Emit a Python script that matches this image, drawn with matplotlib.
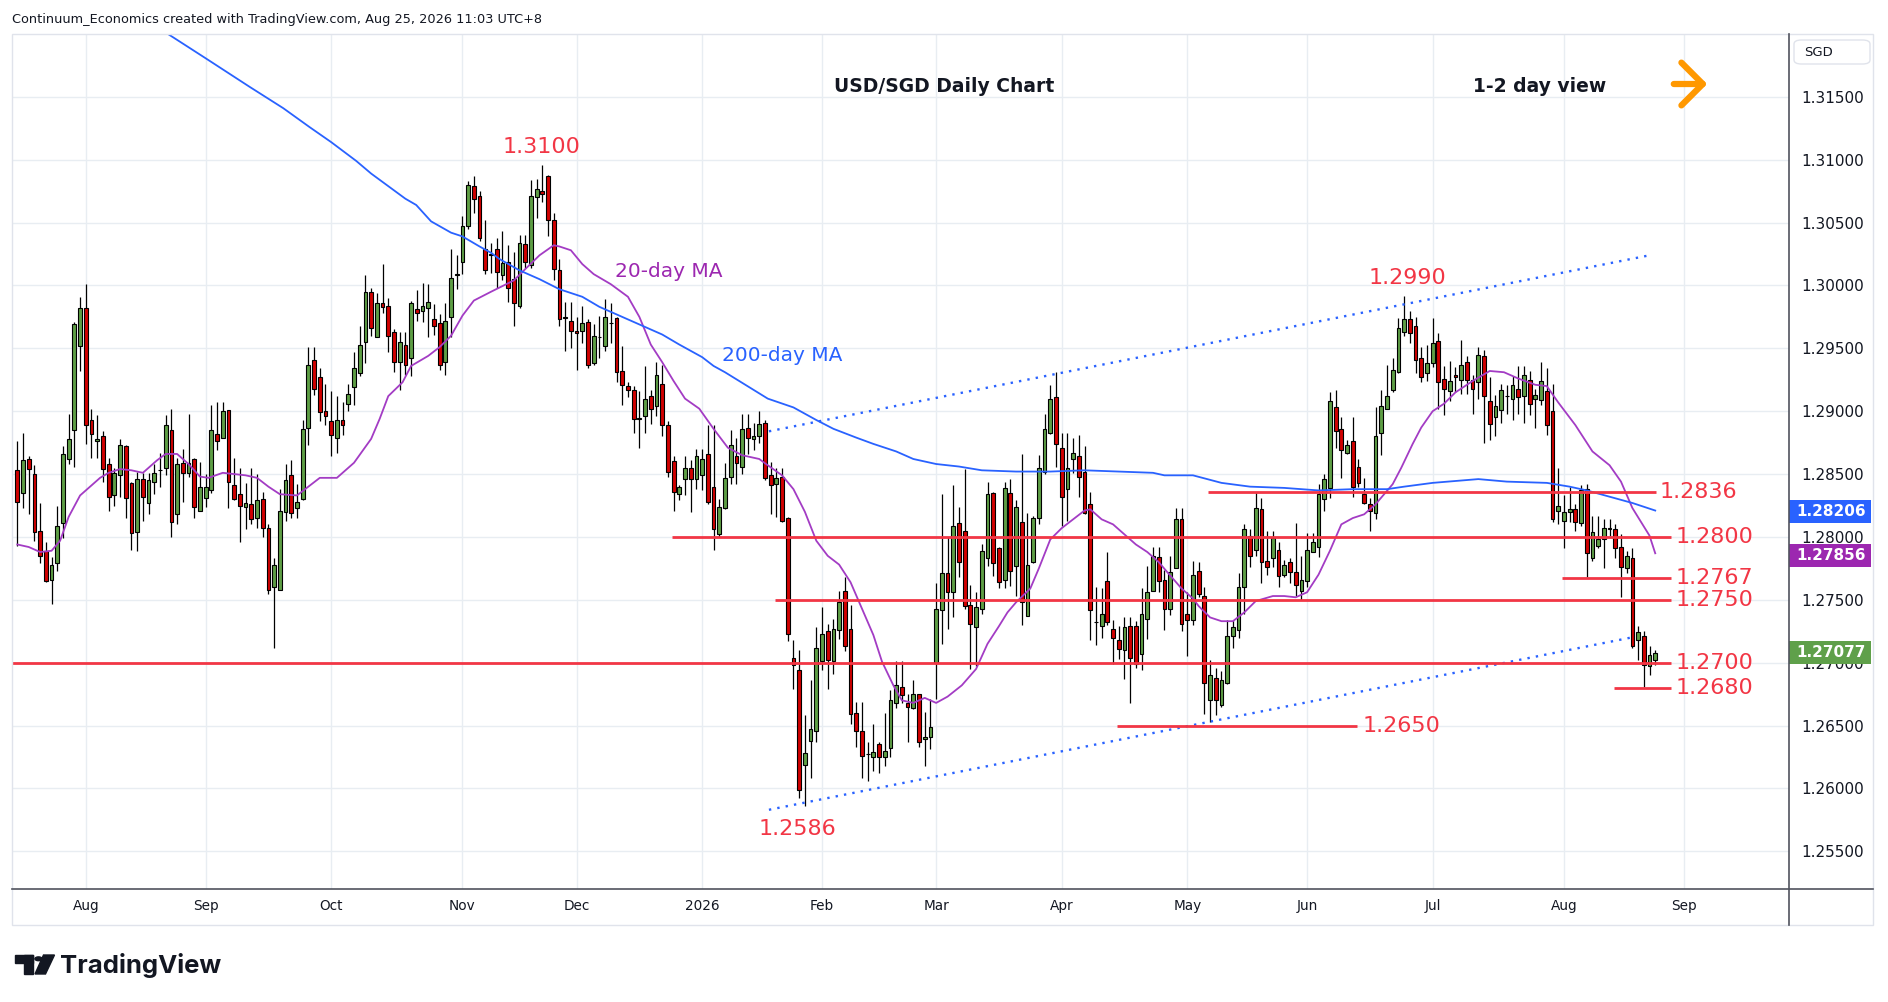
import numpy as np
import pandas as pd
import matplotlib
matplotlib.use("Agg")
import matplotlib.pyplot as plt
from matplotlib import font_manager, transforms
from matplotlib.patches import Rectangle, FancyBboxPatch, Polygon, Circle, FancyArrowPatch
from matplotlib.lines import Line2D

# ---------------- data ----------------
opens = [
1.2853,1.2835,1.2862,1.2850,1.2805,1.2789,1.2766,1.2779,1.2811,1.2862,
1.2885,1.2952,1.2982,1.2893,1.2876,1.2880,1.2858,1.2833,1.2849,1.2872,
1.2843,1.2804,1.2846,1.2827,1.2844,1.2853,1.2855,1.2885,1.2818,1.2859,
1.2851,1.2862,1.2821,1.2831,1.2837,1.2882,1.2879,1.2901,1.2841,1.2834,
1.2824,1.2826,1.2815,1.2830,1.2807,1.2760,1.2758,1.2820,1.2849,1.2823,
1.2830,1.2887,1.2941,1.2927,1.2900,1.2892,1.2879,1.2893,1.2906,1.2919,
1.2930,1.2955,1.2995,1.2959,1.2986,1.2984,1.2963,1.2939,1.2953,1.2942,
1.2981,1.2980,1.2982,1.2973,1.2970,1.2939,1.2975,1.3008,1.3019,1.3047,
1.3079,1.3071,1.3029,1.3025,1.3029,1.3008,1.3019,1.3005,1.2984,1.3033,
1.3016,1.3070,1.3075,1.3087,1.3052,1.3012,1.2975,1.2972,1.2964,1.2964,
1.2971,1.2938,1.2959,1.2952,1.2970,1.2974,1.2932,1.2920,1.2917,1.2894,
1.2896,1.2912,1.2904,1.2922,1.2889,1.2860,1.2834,1.2846,1.2855,1.2846,
1.2849,1.2866,1.2840,1.2802,1.2823,1.2848,1.2864,1.2856,1.2887,1.2878,
1.2880,1.2891,1.2849,1.2842,1.2848,1.2815,1.2704,1.2694,1.2619,1.2638,
1.2646,1.2701,1.2725,1.2701,1.2726,1.2757,1.2727,1.2660,1.2646,1.2627,
1.2625,1.2635,1.2625,1.2632,1.2668,1.2681,1.2668,1.2664,1.2675,1.2639,
1.2641,1.2700,1.2742,1.2771,1.2756,1.2811,1.2805,1.2746,1.2728,1.2743,
1.2783,1.2835,1.2791,1.2766,1.2835,1.2777,1.2812,1.2737,1.2780,1.2815,
1.2852,1.2883,1.2911,1.2871,1.2838,1.2862,1.2864,1.2852,1.2826,1.2732,
1.2729,1.2765,1.2727,1.2718,1.2710,1.2729,1.2729,1.2707,1.2735,1.2757,
1.2784,1.2766,1.2743,1.2775,1.2814,1.2739,1.2734,1.2773,1.2753,1.2670,
1.2688,1.2666,1.2684,1.2721,1.2726,1.2760,1.2801,1.2790,1.2822,1.2781,
1.2783,1.2790,1.2770,1.2780,1.2772,1.2757,1.2765,1.2788,1.2792,1.2830,
1.2839,1.2903,1.2886,1.2867,1.2876,1.2856,1.2834,1.2826,1.2819,1.2883,
1.2902,1.2917,1.2931,1.2963,1.2973,1.2968,1.2942,1.2930,1.2938,1.2956,
1.2926,1.2916,1.2929,1.2925,1.2939,1.2925,1.2923,1.2944,1.2908,1.2895,
1.2901,1.2912,1.2910,1.2918,1.2912,1.2925,1.2910,1.2909,1.2916,1.2900,
1.2821,1.2813,1.2820,1.2822,1.2811,1.2838,1.2783,1.2793,1.2798,1.2806,
1.2806,1.2792,1.2775,1.2783,1.2718,1.2721,1.2697,1.2702]

highs = [
1.2876,1.2883,1.2864,1.2857,1.2827,1.2796,1.2784,1.2825,1.2872,1.2898,
1.2971,1.2991,1.3001,1.2902,1.2897,1.2884,1.2863,1.2855,1.2878,1.2873,
1.2844,1.2852,1.2851,1.2851,1.2858,1.2867,1.2897,1.2902,1.2863,1.2870,
1.2898,1.2863,1.2860,1.2850,1.2905,1.2907,1.2907,1.2901,1.2863,1.2855,
1.2843,1.2855,1.2850,1.2836,1.2810,1.2783,1.2838,1.2858,1.2861,1.2842,
1.2893,1.2951,1.2951,1.2934,1.2922,1.2916,1.2912,1.2907,1.2922,1.2947,
1.2968,1.3008,1.2998,1.2994,1.3017,1.2990,1.2965,1.2963,1.2963,1.2988,
1.2996,1.3002,1.3001,1.2985,1.2977,1.2986,1.3029,1.3024,1.3055,1.3083,
1.3087,1.3075,1.3052,1.3034,1.3038,1.3043,1.3032,1.3027,1.3040,1.3040,
1.3084,1.3085,1.3096,1.3088,1.3058,1.3021,1.2987,1.2987,1.2975,1.2984,
1.2973,1.2969,1.2976,1.2989,1.2986,1.2975,1.2952,1.2923,1.2920,1.2916,
1.2936,1.2917,1.2939,1.2937,1.2892,1.2864,1.2841,1.2864,1.2861,1.2870,
1.2870,1.2889,1.2889,1.2830,1.2859,1.2885,1.2879,1.2898,1.2898,1.2891,
1.2900,1.2893,1.2860,1.2855,1.2855,1.2816,1.2718,1.2710,1.2658,1.2686,
1.2728,1.2744,1.2731,1.2735,1.2757,1.2768,1.2746,1.2669,1.2669,1.2637,
1.2651,1.2637,1.2660,1.2678,1.2701,1.2701,1.2675,1.2686,1.2675,1.2661,
1.2671,1.2763,1.2834,1.2800,1.2841,1.2824,1.2854,1.2762,1.2756,1.2794,
1.2844,1.2836,1.2792,1.2844,1.2846,1.2829,1.2866,1.2819,1.2817,1.2865,
1.2898,1.2921,1.2931,1.2883,1.2883,1.2879,1.2881,1.2872,1.2836,1.2760,
1.2759,1.2788,1.2734,1.2729,1.2736,1.2736,1.2733,1.2759,1.2777,1.2792,
1.2792,1.2774,1.2785,1.2823,1.2823,1.2756,1.2781,1.2780,1.2760,1.2702,
1.2696,1.2693,1.2734,1.2734,1.2771,1.2810,1.2806,1.2836,1.2831,1.2805,
1.2805,1.2796,1.2782,1.2783,1.2811,1.2785,1.2803,1.2803,1.2842,1.2850,
1.2915,1.2917,1.2895,1.2877,1.2895,1.2862,1.2847,1.2831,1.2903,1.2917,
1.2937,1.2942,1.2974,1.2992,1.2980,1.2975,1.2951,1.2953,1.2974,1.2962,
1.2936,1.2940,1.2935,1.2957,1.2944,1.2929,1.2951,1.2949,1.2927,1.2913,
1.2922,1.2921,1.2928,1.2936,1.2936,1.2932,1.2918,1.2939,1.2934,1.2922,
1.2855,1.2833,1.2840,1.2826,1.2841,1.2842,1.2817,1.2817,1.2814,1.2814,
1.2810,1.2802,1.2789,1.2791,1.2729,1.2725,1.2713,1.2710]

lows = [
1.2793,1.2823,1.2818,1.2797,1.2779,1.2764,1.2747,1.2773,1.2799,1.2858,
1.2856,1.2932,1.2874,1.2863,1.2863,1.2844,1.2821,1.2825,1.2832,1.2815,
1.2790,1.2789,1.2813,1.2818,1.2834,1.2840,1.2849,1.2800,1.2810,1.2828,
1.2848,1.2815,1.2821,1.2824,1.2835,1.2869,1.2879,1.2823,1.2829,1.2796,
1.2806,1.2810,1.2807,1.2800,1.2755,1.2712,1.2758,1.2813,1.2815,1.2815,
1.2829,1.2873,1.2913,1.2892,1.2889,1.2864,1.2867,1.2881,1.2900,1.2905,
1.2928,1.2938,1.2960,1.2959,1.2978,1.2947,1.2931,1.2917,1.2929,1.2928,
1.2972,1.2971,1.2959,1.2961,1.2933,1.2929,1.2959,1.2997,1.3009,1.3045,
1.3058,1.3035,1.3009,1.3010,1.2998,1.3004,1.2987,1.2968,1.2982,1.3014,
1.3014,1.3054,1.3066,1.3039,1.3004,1.2968,1.2948,1.2950,1.2933,1.2954,
1.2934,1.2937,1.2942,1.2948,1.2954,1.2923,1.2905,1.2911,1.2883,1.2871,
1.2883,1.2890,1.2896,1.2880,1.2848,1.2821,1.2829,1.2833,1.2820,1.2838,
1.2837,1.2826,1.2790,1.2800,1.2822,1.2842,1.2842,1.2850,1.2866,1.2869,
1.2875,1.2845,1.2818,1.2816,1.2812,1.2717,1.2679,1.2592,1.2586,1.2608,
1.2637,1.2694,1.2679,1.2691,1.2719,1.2709,1.2651,1.2633,1.2608,1.2606,
1.2614,1.2612,1.2618,1.2625,1.2664,1.2668,1.2637,1.2663,1.2633,1.2618,
1.2631,1.2671,1.2715,1.2727,1.2736,1.2768,1.2743,1.2695,1.2697,1.2739,
1.2777,1.2769,1.2759,1.2759,1.2761,1.2753,1.2730,1.2737,1.2779,1.2810,
1.2850,1.2882,1.2856,1.2809,1.2813,1.2851,1.2832,1.2818,1.2718,1.2714,
1.2720,1.2730,1.2699,1.2703,1.2687,1.2668,1.2696,1.2694,1.2719,1.2757,
1.2756,1.2726,1.2738,1.2775,1.2725,1.2705,1.2730,1.2752,1.2659,1.2653,
1.2658,1.2665,1.2683,1.2712,1.2720,1.2739,1.2776,1.2785,1.2763,1.2770,
1.2776,1.2760,1.2768,1.2763,1.2753,1.2750,1.2760,1.2788,1.2784,1.2821,
1.2831,1.2871,1.2847,1.2866,1.2832,1.2840,1.2826,1.2805,1.2814,1.2865,
1.2902,1.2915,1.2930,1.2960,1.2954,1.2930,1.2923,1.2924,1.2935,1.2902,
1.2897,1.2908,1.2915,1.2914,1.2914,1.2898,1.2910,1.2875,1.2877,1.2880,
1.2891,1.2898,1.2893,1.2898,1.2891,1.2897,1.2887,1.2905,1.2881,1.2812,
1.2810,1.2791,1.2812,1.2805,1.2809,1.2768,1.2781,1.2791,1.2775,1.2801,
1.2783,1.2752,1.2771,1.2712,1.2702,1.2681,1.2690,1.2698]

closes = [
1.2828,1.2861,1.2854,1.2804,1.2785,1.2765,1.2778,1.2809,1.2866,1.2878,
1.2969,1.2982,1.2889,1.2882,1.2878,1.2854,1.2832,1.2851,1.2873,1.2831,
1.2803,1.2846,1.2832,1.2845,1.2851,1.2853,1.2889,1.2812,1.2858,1.2851,
1.2859,1.2824,1.2840,1.2840,1.2885,1.2876,1.2900,1.2844,1.2830,1.2825,
1.2827,1.2814,1.2829,1.2807,1.2758,1.2778,1.2821,1.2845,1.2819,1.2828,
1.2886,1.2937,1.2918,1.2899,1.2896,1.2881,1.2893,1.2889,1.2914,1.2934,
1.2953,1.2995,1.2966,1.2986,1.2983,1.2960,1.2939,1.2955,1.2937,1.2986,
1.2978,1.2984,1.2987,1.2968,1.2937,1.2972,1.3006,1.3009,1.3047,1.3080,
1.3069,1.3038,1.3012,1.3024,1.3011,1.3018,1.2998,1.2986,1.3034,1.3019,
1.3071,1.3077,1.3073,1.3052,1.3013,1.2973,1.2974,1.2964,1.2962,1.2970,
1.2937,1.2960,1.2959,1.2975,1.2970,1.2931,1.2921,1.2917,1.2894,1.2894,
1.2910,1.2902,1.2929,1.2889,1.2852,1.2836,1.2840,1.2855,1.2846,1.2864,
1.2862,1.2828,1.2806,1.2824,1.2847,1.2873,1.2859,1.2886,1.2879,1.2880,
1.2890,1.2847,1.2841,1.2847,1.2813,1.2723,1.2698,1.2599,1.2628,1.2647,
1.2712,1.2723,1.2702,1.2727,1.2748,1.2713,1.2659,1.2646,1.2626,1.2627,
1.2629,1.2625,1.2630,1.2670,1.2682,1.2674,1.2665,1.2675,1.2637,1.2641,
1.2649,1.2743,1.2771,1.2756,1.2809,1.2780,1.2745,1.2731,1.2744,1.2789,
1.2834,1.2779,1.2764,1.2839,1.2773,1.2824,1.2748,1.2778,1.2815,1.2855,
1.2886,1.2910,1.2874,1.2832,1.2855,1.2867,1.2848,1.2819,1.2742,1.2732,
1.2739,1.2732,1.2720,1.2711,1.2728,1.2704,1.2699,1.2739,1.2756,1.2785,
1.2765,1.2743,1.2772,1.2814,1.2731,1.2734,1.2770,1.2755,1.2684,1.2690,
1.2670,1.2686,1.2721,1.2728,1.2760,1.2806,1.2785,1.2823,1.2780,1.2776,
1.2799,1.2769,1.2778,1.2772,1.2762,1.2766,1.2790,1.2796,1.2834,1.2846,
1.2908,1.2884,1.2869,1.2873,1.2840,1.2843,1.2827,1.2821,1.2880,1.2904,
1.2912,1.2933,1.2966,1.2973,1.2962,1.2941,1.2927,1.2938,1.2954,1.2923,
1.2918,1.2924,1.2927,1.2937,1.2925,1.2918,1.2945,1.2912,1.2890,1.2904,
1.2917,1.2912,1.2921,1.2911,1.2929,1.2906,1.2913,1.2924,1.2889,1.2814,
1.2825,1.2820,1.2822,1.2812,1.2837,1.2787,1.2804,1.2798,1.2807,1.2807,
1.2791,1.2776,1.2785,1.2713,1.2724,1.2698,1.2706,1.2708]

# 20-day moving average, read at candle numbers (1 = first candle)
ma20_candle = [1,3,5,7,8.5,10,12,14,15.5,17,19,21,23,25.5,27,29,31,33,34.5,37,
               39,41,43,45,47,50,52,54,57,60,63,64.5,66,68.5,70,73,75,77,79,81,
               84,88,90,92.5,95,96,98,100,102,105,108,110,112,114,116,118,120.5,123,125.5,128,
               131,132.5,135,137,139,141,143,145,147,149,151,152.5,154.5,156,158,160,162,164,166.5,169,
               171,173,174.5,176,178.5,180,182,184,186,188,189,191,193,195,197,199,201,202.5,205,207,
               208,210,212,214,216,218,221,223,225,227,229,231,233,235,237,239,242,243.5,245.5,247,
               249,251,253,256,259,261.5,264,267,269,271,274,277,280,282,284,287,288]
ma20_value = [1.2794,1.2792,1.2788,1.2789,1.2797,1.2816,1.2833,1.2841,1.2847,1.2851,
              1.2854,1.2853,1.2851,1.2861,1.2866,1.2866,1.2858,1.2848,1.2847,1.2851,
              1.2850,1.2849,1.2847,1.2840,1.2834,1.2833,1.2840,1.2847,1.2847,1.2859,
              1.2878,1.2894,1.2912,1.2923,1.2936,1.2944,1.2951,1.2960,1.2976,1.2988,
              1.2995,1.3004,1.3013,1.3024,1.3032,1.3031,1.3028,1.3017,1.3009,1.3001,
              1.2991,1.2975,1.2953,1.2939,1.2924,1.2910,1.2902,1.2886,1.2871,1.2865,
              1.2862,1.2857,1.2849,1.2838,1.2820,1.2797,1.2785,1.2778,1.2764,1.2743,
              1.2722,1.2701,1.2682,1.2670,1.2668,1.2672,1.2668,1.2673,1.2682,1.2695,
              1.2715,1.2729,1.2740,1.2748,1.2759,1.2775,1.2798,1.2807,1.2814,1.2821,
              1.2822,1.2814,1.2810,1.2802,1.2794,1.2788,1.2780,1.2772,1.2759,1.2751,
              1.2745,1.2736,1.2733,1.2733,1.2740,1.2749,1.2753,1.2753,1.2752,1.2756,
              1.2770,1.2789,1.2810,1.2815,1.2818,1.2826,1.2842,1.2855,1.2874,1.2887,
              1.2900,1.2906,1.2915,1.2924,1.2932,1.2931,1.2926,1.2921,1.2920,1.2907,
              1.2889,1.2868,1.2857,1.2844,1.2823,1.2801,1.2787]

# 200-day moving average, read at candle numbers
ma200_candle = [27.4,33.9,41.7,47.6,52.2,56,60.4,63,65.1,69,70.9,73.5,77,79,82,84,85.5,89,92.5,96,
                100,103,107,110,114,117,121,123,125,132.5,137,141,144,148,151,155,158,162,166,170,
                176,182,188,194,200,202,207,212,217,223,229,235,241,244,249,257,262,269,273,276,
                280,284,288]
ma200_value = [1.3200,1.3181,1.3158,1.3141,1.3126,1.3114,1.3099,1.3089,1.3082,1.3069,
               1.3064,1.3051,1.3042,1.3039,1.3031,1.3026,1.3021,1.3012,1.3005,1.2997,
               1.2991,1.2983,1.2975,1.2969,1.2961,1.2953,1.2943,1.2936,1.2931,1.2910,
               1.2903,1.2893,1.2886,1.2879,1.2874,1.2868,1.2862,1.2858,1.2856,1.2853,
               1.2852,1.2852,1.2853,1.2852,1.2851,1.2849,1.2849,1.2843,1.2840,1.2839,
               1.2837,1.2838,1.2838,1.2840,1.2843,1.2846,1.2844,1.2843,1.2840,1.2837,
               1.2832,1.2827,1.2821]

last_price = 1.27077
ma200_last = 1.28206
ma20_last = 1.27856

# support / resistance levels drawn as red lines: (level, label, start candle, end candle)
levels = [1.2836, 1.2800, 1.2767, 1.2750, 1.2700, 1.2680, 1.2650]
level_labels = ["1.2836", "1.2800", "1.2767", "1.2750", "1.2700", "1.2680", "1.2650"]
level_start = [209.6, 115.7, 271.6, 133.8, 0.0, 280.7, 193.7]
level_end = [288.05, 290.8, 290.8, 290.8, 290.8, 290.8, 235.75]
level_label_x = [288.8, 291.6, 291.6, 291.6, 291.6, 291.6, 236.8]

# trend channel (candle number, price)
channel_upper = [(132.7, 1.2884), (287.0, 1.3024)]
channel_lower = [(132.7, 1.2583), (283.8, 1.2720)]

# price annotations (text, candle number, price)
price_notes = [("1.3100", 92.8, 1.3110), ("1.2990", 244.5, 1.3006), ("1.2586", 137.7, 1.2568)]

# ---------------- dates -----------------
dates = pd.bdate_range("2025-07-16", "2026-09-01")
dates = dates[~dates.isin(pd.to_datetime(["2025-12-25", "2026-01-01"]))]
n = len(opens)

# ---------------- fonts -----------------
names = {f.name for f in font_manager.fontManager.ttflist}
NARROW = "Liberation Sans Narrow" in names
if NARROW:
    fam_n = ["Liberation Sans Narrow", "DejaVu Sans"]
    title_size, month_size, header_size = 20, 13, 12.5
else:
    fam_n = ["DejaVu Sans"]
    title_size, month_size, header_size = 13.5, 9.8, 9.3
plt.rcParams["font.family"] = ["DejaVu Sans"]

W, H = 1888, 1002
def fx(px):
    return px / W
def fy(py):
    return 1 - py / H

GREEN = "#5E9E45"
RED = "#D10000"
LVL = "#F23645"
BLUE = "#2962FF"
PURPLE = "#A33CC4"
GRID = "#E8EDF2"
TXT = "#131722"
DARK = "#50535E"

fig = plt.figure(figsize=(W / 100, H / 100), dpi=100)
fig.patch.set_facecolor("white")
ax = fig.add_axes([fx(12), fy(889), (1789 - 12) / W, (889 - 34) / H])
ax.set_xlim(-0.93, 310.44)
ax.set_ylim(1.2520, 1.3200)
for s in ax.spines.values():
    s.set_visible(False)

# month ticks
month_pos, month_lab = [], []
for i in range(1, len(dates)):
    if dates[i].month != dates[i - 1].month:
        month_pos.append(i)
        month_lab.append(str(dates[i].year) if dates[i].month == 1 else dates[i].strftime("%b"))
ax.set_xticks(month_pos)
ax.set_xticklabels(month_lab, fontsize=month_size, family=fam_n, color=TXT)
ax.tick_params(axis="x", length=0, pad=7)

yt = np.round(np.arange(1.255, 1.3151, 0.005), 3)
ax.yaxis.tick_right()
ax.set_yticks(yt)
ax.set_yticklabels([f"{v:.5f}" for v in yt], fontsize=11, color=TXT)
ax.tick_params(axis="y", length=0, pad=9)
ax.grid(True, color=GRID, lw=1)
ax.set_axisbelow(True)

# candles
x = np.arange(n)
o = np.array(opens); h = np.array(highs); l = np.array(lows); c = np.array(closes)
up = c >= o
cols = np.where(up, GREEN, RED)
ax.vlines(x, l, h, color="black", lw=0.9, zorder=3)
bb = np.minimum(o, c)
bh = np.maximum(np.abs(c - o), 0.00004)
ax.bar(x, bh, bottom=bb, width=0.66, color=cols, edgecolor="black", linewidth=0.8, zorder=4)

# moving averages
ax.plot(np.array(ma20_candle) - 1, ma20_value, color=PURPLE, lw=1.3, zorder=5)
ax.plot(np.array(ma200_candle) - 1, ma200_value, color=BLUE, lw=1.3, zorder=5)

# channel
for ch in (channel_upper, channel_lower):
    xs = [p[0] - 1 for p in ch]
    ys = [p[1] for p in ch]
    ax.plot(xs, ys, color=BLUE, lw=1.7, linestyle=(0, (1, 2.6)), zorder=5)

# levels
for lv, lab, s0, s1, lx in zip(levels, level_labels, level_start, level_end, level_label_x):
    ax.plot([s0 - 1, s1 - 1], [lv, lv], color=LVL, lw=2, zorder=6, solid_capstyle="butt")
    ax.text(lx - 1, lv, lab, color=LVL, fontsize=16, ha="left", va="center", zorder=7)

for lab, cx, cy in price_notes:
    ax.text(cx - 1, cy, lab, color=LVL, fontsize=16, ha="center", va="center", zorder=7)

ax.text(115.1 - 1, 1.3011, "20-day MA", color="#9C27B0", fontsize=14.5, ha="center", va="center", zorder=7)
ax.text(135.1 - 1, 1.2944, "200-day MA", color=BLUE, fontsize=14.5, ha="center", va="center", zorder=7)

# price tags on the right scale
bt = transforms.blended_transform_factory(fig.transFigure, ax.transData)
for val, col in ((ma200_last, BLUE), (ma20_last, "#9C27B0"), (last_price, "#5FA04A")):
    hh = 23 * (0.068 / 855)
    ax.add_patch(Rectangle((fx(1789), val - hh / 2), (1871 - 1789) / W, hh, transform=bt,
                           facecolor=col, edgecolor="none", clip_on=False, zorder=20))
    ax.text(fx(1831), val, f"{val:.5f}", transform=bt, color="white", fontsize=11,
            fontweight="bold", ha="center", va="center", clip_on=False, zorder=21)

# frame lines
fig.add_artist(Rectangle((fx(12), fy(925)), (1873 - 12) / W, (925 - 34) / H, transform=fig.transFigure,
                         fill=False, edgecolor="#E0E3EB", lw=1))
fig.add_artist(Line2D([fx(12), fx(1873)], [fy(889), fy(889)], color=DARK, lw=1.2))
fig.add_artist(Line2D([fx(1789), fx(1789)], [fy(34), fy(925)], color=DARK, lw=1.2))

# SGD box
fig.add_artist(FancyBboxPatch((fx(1794), fy(64)), (1870 - 1794) / W, (64 - 40) / H,
                              boxstyle="round,pad=0,rounding_size=0.004", transform=fig.transFigure,
                              facecolor="white", edgecolor="#E0E3EB", lw=1))
fig.text(fx(1804), fy(52), "SGD", fontsize=9.5, color=TXT, ha="left", va="center")

# titles
fig.text(fx(944), fy(86), "USD/SGD Daily Chart", fontsize=title_size, family=fam_n,
         fontweight="bold", color=TXT, ha="center", va="center")
fig.text(fx(1540), fy(86), "1-2 day view", fontsize=title_size, family=fam_n,
         fontweight="bold", color=TXT, ha="center", va="center")
fig.add_artist(FancyArrowPatch((fx(1671), fy(84)), (fx(1710), fy(84)), transform=fig.transFigure,
                               arrowstyle="->,head_length=0.55,head_width=0.55", mutation_scale=28,
                               color="#FF9800", lw=4.5, capstyle="round", joinstyle="round"))

fig.text(fx(12), fy(19), "Continuum_Economics created with TradingView.com, Aug 25, 2026 11:03 UTC+8",
         fontsize=header_size, family=fam_n, color=TXT, ha="left", va="center")

# TradingView logo
k = "#131722"
fig.add_artist(Rectangle((fx(14.5), fy(963)), (33 - 14.5) / W, (963 - 955) / H, transform=fig.transFigure, color=k))
fig.add_artist(Rectangle((fx(24), fy(974)), (33 - 24) / W, (974 - 955) / H, transform=fig.transFigure, color=k))
fig.add_artist(Polygon([(fx(43.5), fy(955)), (fx(54.5), fy(955)), (fx(45.5), fy(974)), (fx(35), fy(974))],
                       closed=True, transform=fig.transFigure, color=k))
fig.add_artist(Circle((fx(38.5), fy(958.8)), 3.6 / W, transform=fig.transFigure, color=k))
fig.text(fx(60), fy(965), "TradingView", fontsize=18.5, family=["Inter", "DejaVu Sans"],
         fontweight="bold", color=k, ha="left", va="center")

fig.savefig("out.png", dpi=100, facecolor="white")
